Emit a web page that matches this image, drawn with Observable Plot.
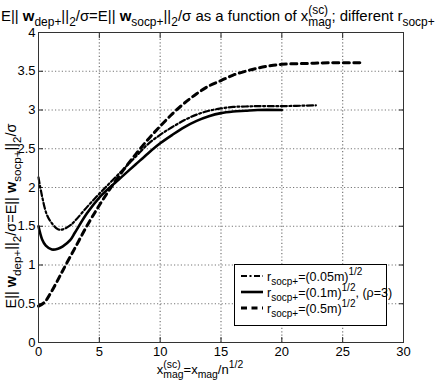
<!DOCTYPE html>
<html>
<head>
<meta charset="utf-8">
<script src="https://cdn.jsdelivr.net/npm/d3@7"></script>
<script src="https://cdn.jsdelivr.net/npm/@observablehq/plot@0.6"></script>
<style>
  #wrap { position: relative; width: 436px; height: 382px; font-family: "Liberation Sans", Arial, sans-serif; color: #000; }
  .t { position: absolute; white-space: nowrap; line-height: 1; }
  .sub { font-size: 0.8em; vertical-align: -0.4em; }
  .sup { font-size: 0.8em; vertical-align: 0.6em; }
  .ss { display: inline-flex; flex-direction: column; vertical-align: 0.6em; font-size: 0.8em; line-height: 1em; }
  #legend { position: absolute; left: 234px; top: 264px; width: 153px; height: 62px; border: 1px solid #000; background: #fff; font-size: 12.5px; box-sizing: border-box; }
  #legend .row { position: absolute; left: 4px; height: 16px; }
  #legend .row svg { position: absolute; left: 0; top: 2px; }
  #legend .row span.lab { position: absolute; left: 28px; top: -2px; white-space: nowrap; line-height: 1; }
</style>
</head>
<body style="margin:0">
<div id="wrap"></div>
<script>
// Series: r_socp+ = (0.05m)^1/2  (dash-dot)
const xA = [0, 0.25, 0.66, 1, 1.6, 2, 2.6, 3, 4, 5, 6, 7, 8, 9, 10, 11, 12, 13, 14, 15, 16, 17, 18, 20, 22.8];
const yA = [2.13, 1.92, 1.66, 1.56, 1.46, 1.46, 1.51, 1.57, 1.75, 1.92, 2.08, 2.24, 2.40, 2.56, 2.68, 2.78, 2.87, 2.94, 2.99, 3.02, 3.04, 3.045, 3.05, 3.05, 3.06];
// Series: r_socp+ = (0.1m)^1/2, (rho=3)  (solid)
const xB = [0, 0.3, 0.6, 1.1, 1.6, 2, 2.6, 3, 4, 5, 6, 7, 8, 9, 10, 11, 12, 13, 14, 15, 16, 17, 18, 20];
const yB = [1.5, 1.33, 1.25, 1.20, 1.21, 1.24, 1.32, 1.42, 1.67, 1.87, 2.02, 2.16, 2.30, 2.44, 2.57, 2.68, 2.78, 2.86, 2.92, 2.96, 2.98, 2.99, 3.0, 3.0];
// Series: r_socp+ = (0.5m)^1/2  (dashed)
const xC = [0, 0.5, 1, 1.5, 2, 3, 4, 5, 6, 7, 8, 9, 10, 11, 12, 13, 14, 15, 16, 17, 18, 19, 20, 22, 24, 26.7];
const yC = [0.47, 0.52, 0.64, 0.78, 0.93, 1.22, 1.51, 1.77, 2.01, 2.23, 2.43, 2.62, 2.79, 2.95, 3.09, 3.21, 3.31, 3.38, 3.45, 3.50, 3.54, 3.57, 3.59, 3.60, 3.61, 3.61];

const xTicks = [0, 5, 10, 15, 20, 25, 30];
const yTicks = [0, 0.5, 1, 1.5, 2, 2.5, 3, 3.5, 4];

const zip = (xs, ys) => xs.map((x, i) => ({x, y: ys[i]}));
const dA = zip(xA, yA), dB = zip(xB, yB), dC = zip(xC, yC);

const styleA = {stroke: "#000", strokeWidth: 2.2, strokeDasharray: "6,2.5,2,2.5"};
const styleB = {stroke: "#000", strokeWidth: 2.6};
const styleC = {stroke: "#000", strokeWidth: 3, strokeDasharray: "6,4.5"};

const chart = Plot.plot({
  width: 436,
  height: 382,
  marginLeft: 38,
  marginRight: 33,
  marginTop: 32,
  marginBottom: 40,
  x: {domain: [0, 30]},
  y: {domain: [0, 4]},
  marks: [
    Plot.ruleX(xTicks.slice(1, -1), {stroke: "#777", strokeWidth: 1.2, strokeDasharray: "1.2,2.2"}),
    Plot.ruleY(yTicks.slice(1, -1), {stroke: "#777", strokeWidth: 1.2, strokeDasharray: "1.2,2.2"}),
    Plot.axisX(xTicks, {anchor: "bottom", tickSize: -5, tickPadding: 9, label: null, stroke: "#222", fill: "#000", fontSize: 13}),
    Plot.axisX(xTicks, {anchor: "top", tickSize: -5, tickFormat: () => "", label: null, stroke: "#222"}),
    Plot.axisY(yTicks, {anchor: "left", tickSize: -5, tickPadding: 8, tickFormat: d => String(d), label: null, stroke: "#222", fill: "#000", fontSize: 13}),
    Plot.axisY(yTicks, {anchor: "right", tickSize: -5, tickFormat: () => "", label: null, stroke: "#222"}),
    Plot.line(dC, {x: "x", y: "y", curve: "catmull-rom", ...styleC}),
    Plot.line(dA, {x: "x", y: "y", curve: "catmull-rom", ...styleA}),
    Plot.line(dB, {x: "x", y: "y", curve: "catmull-rom", ...styleB}),
    Plot.frame({stroke: "#333"})
  ]
});
chart.setAttribute("font-family", "Liberation Sans, Arial, sans-serif");
chart.setAttribute("font-size", "13");

const wrap = document.getElementById("wrap");
wrap.appendChild(chart);

const w = '<b>w</b>';
const title = document.createElement("div");
title.className = "t";
title.style.cssText = "left:1px;top:5px;font-size:16px;";
title.innerHTML = `E|| ${w}<span class="sub">dep+</span>||<span class="sub">2</span>/σ=E|| ${w}<span class="sub">socp+</span>||<span class="sub">2</span>/σ as a function of x<span class="ss"><span>(sc)</span><span>mag</span></span>; different r<span class="sub">socp+</span>`;
wrap.appendChild(title);
// fit title to the window width, as in the reference
const tw = title.getBoundingClientRect().width;
if (tw > 434) title.style.fontSize = (16 * 434 / tw).toFixed(2) + "px";

const ylab = document.createElement("div");
ylab.className = "t";
ylab.style.cssText = "left:13px;top:216px;font-size:14.5px;transform:translate(-50%,-50%) rotate(-90deg);";
ylab.innerHTML = `E|| ${w}<span class="sub">dep+</span>||<span class="sub">2</span>/σ=E|| ${w}<span class="sub">socp+</span>||<span class="sub">2</span>/σ`;
wrap.appendChild(ylab);

const xlab = document.createElement("div");
xlab.className = "t";
xlab.style.cssText = "left:200px;top:360px;font-size:13px;transform:translateX(-50%);";
xlab.innerHTML = `x<span class="ss"><span>(sc)</span><span>mag</span></span>=x<span class="sub">mag</span>/n<span class="sup">1/2</span>`;
wrap.appendChild(xlab);

const legend = document.createElement("div");
legend.id = "legend";
const rows = [
  {st: styleA, lab: 'r<span class="sub">socp+</span>=(0.05m)<span class="sup">1/2</span>'},
  {st: styleB, lab: 'r<span class="sub">socp+</span>=(0.1m)<span class="sup">1/2</span>, (ρ=3)'},
  {st: styleC, lab: 'r<span class="sub">socp+</span>=(0.5m)<span class="sup">1/2</span>'}
];
rows.forEach((r, i) => {
  const row = document.createElement("div");
  row.className = "row";
  row.style.top = (4 + i * 16) + "px";
  row.innerHTML = `<svg width="24" height="10"><line x1="2" x2="24" y1="5" y2="5" stroke="${r.st.stroke}" stroke-width="${r.st.strokeWidth}" ${r.st.strokeDasharray ? `stroke-dasharray="${r.st.strokeDasharray}"` : ""}/></svg><span class="lab">${r.lab}</span>`;
  legend.appendChild(row);
});
wrap.appendChild(legend);
</script>
</body>
</html>
